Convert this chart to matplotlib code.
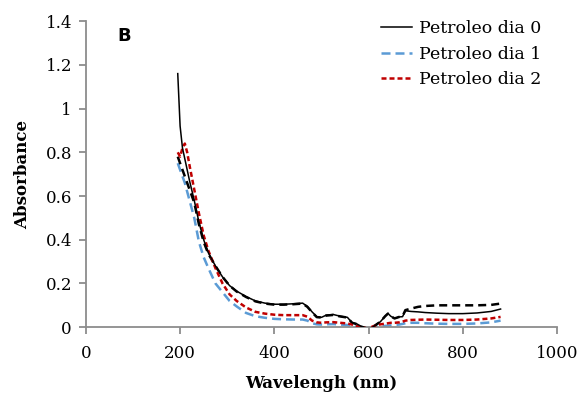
import matplotlib
matplotlib.use("Agg")
import matplotlib.pyplot as plt

wavelength = [195, 200, 205, 210, 215, 220, 230, 240, 250, 260, 275, 290, 305, 320, 340, 360, 380,
              400, 420, 440, 460, 470, 480, 490, 500, 510, 525, 540, 555, 565, 575, 585, 595, 600,
              605, 615, 625, 635, 641, 647, 655, 665, 672, 678, 690, 705, 720, 745, 770, 800, 830,
              860, 880]

dia0 = [1.16, 0.92, 0.82, 0.77, 0.72, 0.67, 0.58, 0.48, 0.40, 0.34, 0.28, 0.23, 0.19, 0.165, 0.14,
        0.12, 0.11, 0.105, 0.105, 0.107, 0.11, 0.095, 0.07, 0.048, 0.045, 0.055, 0.058, 0.05, 0.045,
        0.02, 0.015, 0.003, -0.005, -0.01, -0.005, 0.01, 0.025, 0.05, 0.063, 0.05, 0.04, 0.047,
        0.048, 0.075, 0.072, 0.07, 0.067, 0.064, 0.062, 0.062, 0.065, 0.072, 0.083]

dia0_rep = [0.78, 0.75, 0.72, 0.69, 0.66, 0.63, 0.57, 0.47, 0.39, 0.335, 0.28, 0.23, 0.19, 0.163,
            0.138, 0.118, 0.108, 0.103, 0.103, 0.105, 0.108, 0.093, 0.068, 0.046, 0.044, 0.053,
            0.056, 0.049, 0.044, 0.02, 0.014, 0.002, -0.005, -0.01, -0.005, 0.01, 0.025, 0.05,
            0.062, 0.05, 0.04, 0.047, 0.05, 0.078, 0.085, 0.093, 0.097, 0.1, 0.1, 0.1, 0.1, 0.102,
            0.108]

dia1 = [0.75, 0.72, 0.69, 0.66, 0.62, 0.58, 0.50, 0.39, 0.32, 0.27, 0.20, 0.16, 0.12, 0.095, 0.065,
        0.05, 0.043, 0.038, 0.036, 0.035, 0.035, 0.03, 0.018, 0.013, 0.012, 0.013, 0.014, 0.012,
        0.01, 0.006, 0.002, 0.0, -0.004, -0.005, -0.003, 0.002, 0.004, 0.006, 0.007, 0.008, 0.01,
        0.012, 0.015, 0.018, 0.02, 0.02, 0.018, 0.016, 0.015, 0.015, 0.017, 0.022, 0.03]

dia2 = [0.80, 0.78, 0.82, 0.84, 0.80, 0.74, 0.63, 0.52, 0.42, 0.35, 0.27, 0.20, 0.15, 0.12, 0.09,
        0.07, 0.062, 0.057, 0.055, 0.055, 0.055, 0.048, 0.03, 0.022, 0.02, 0.022, 0.023, 0.02,
        0.017, 0.012, 0.006, 0.0, -0.005, -0.005, 0.0, 0.008, 0.013, 0.016, 0.018, 0.02, 0.02,
        0.022, 0.025, 0.03, 0.033, 0.034, 0.035, 0.034, 0.033, 0.033, 0.035, 0.04, 0.047]

labels = ["Petroleo dia 0", "Petroleo dia 1", "Petroleo dia 2"]
xticks = [0, 200, 400, 600, 800, 1000]
yticks = [0, 0.2, 0.4, 0.6, 0.8, 1.0, 1.2, 1.4]
ytick_labels = ["0", "0.2", "0.4", "0.6", "0.8", "1", "1.2", "1.4"]

serif = "DejaVu Serif"

fig = plt.figure(figsize=(5.84, 3.99), dpi=100)
ax = fig.add_axes([0.147, 0.18, 0.807, 0.767])

ax.plot(wavelength, dia0, color="black", lw=1.1, label=labels[0], zorder=4)
ax.plot(wavelength, dia0_rep, color="black", lw=1.8, dashes=(3.2, 2.0), zorder=3)
ax.plot(wavelength, dia1, color="#5B9BD5", lw=1.8, dashes=(3.6, 2.0), label=labels[1], zorder=2)
ax.plot(wavelength, dia2, color="#C00000", lw=1.8, dashes=(2.0, 1.2), label=labels[2], zorder=3)

ax.set_xlim(0, 1000)
ax.set_ylim(0, 1.4)
ax.set_xticks(xticks)
ax.set_yticks(yticks)
ax.set_yticklabels(ytick_labels)
for s in ["top", "right"]:
    ax.spines[s].set_visible(False)
for s in ["left", "bottom"]:
    ax.spines[s].set_color("#8c8c8c")
    ax.spines[s].set_linewidth(1.3)
ax.tick_params(axis="both", direction="out", length=5, width=1.3, color="#8c8c8c",
               labelsize=12)
ax.tick_params(axis="x", pad=8)
ax.tick_params(axis="y", pad=5)
for t in ax.get_xticklabels() + ax.get_yticklabels():
    t.set_fontfamily(serif)

ax.set_xlabel("Wavelengh (nm)", fontfamily=serif, fontweight="bold", fontsize=12, labelpad=9)
ax.set_ylabel("Absorbance", fontfamily=serif, fontweight="bold", fontsize=12, labelpad=10)

ax.text(0.066, 0.98, "B", transform=ax.transAxes, fontsize=13, fontweight="bold",
        fontfamily="DejaVu Sans", va="top", ha="left")

leg = ax.legend(loc="upper right", bbox_to_anchor=(1.0, 1.055), frameon=False,
                prop={"family": serif, "size": 12.5}, handlelength=1.8, handletextpad=0.4,
                labelspacing=0.5)

fig.savefig("out.png", dpi=100)
